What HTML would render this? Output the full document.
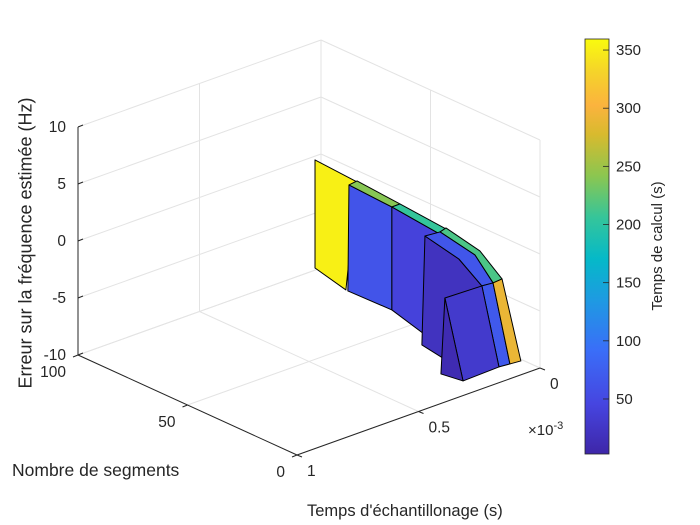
<!DOCTYPE html>
<html><head><meta charset="utf-8"><style>
body{margin:0;background:#fff;}
svg{display:block;font-family:"Liberation Sans",sans-serif;}
</style></head><body>
<svg id="chart" width="700" height="525" viewBox="0 0 700 525" xmlns="http://www.w3.org/2000/svg">
<defs>
<linearGradient id="parula" x1="0" y1="1" x2="0" y2="0">
<stop offset="0" stop-color="#3e26a8"/>
<stop offset="0.12" stop-color="#4645e0"/>
<stop offset="0.25" stop-color="#3a6ef8"/>
<stop offset="0.37" stop-color="#1e9ae2"/>
<stop offset="0.47" stop-color="#05b9c8"/>
<stop offset="0.57" stop-color="#35c59a"/>
<stop offset="0.67" stop-color="#8bc650"/>
<stop offset="0.77" stop-color="#d8ba2e"/>
<stop offset="0.84" stop-color="#fbb33e"/>
<stop offset="0.92" stop-color="#f5d32a"/>
<stop offset="1" stop-color="#f9fb0e"/>
</linearGradient>
</defs>
<g id="grid"></g>
<g id="axes"></g>
<g id="surf"></g>
<g id="labels"></g>
<g>
<rect x="585" y="39" width="24" height="415" fill="url(#parula)" stroke="#262626" stroke-width="0.8"/>
<g id="cbticks"></g>
<text transform="translate(662,246) rotate(-90)" text-anchor="middle" font-size="15" fill="#262626">Temps de calcul (s)</text>
</g>
</svg>
<script>
// axis ranges
const timeRange = [0, 1e-3];
const segRange = [0, 100];
const errRange = [-10, 10];
const cRange = [2.7, 359.5];
const zTicks = [-10, -5, 0, 5, 10];
const zTickLabels = ['-10', '-5', '0', '5', '10'];
const segTicks = [0, 50, 100];
const segTickLabels = ['0', '50', '100'];
const timeTicks = [0, 0.5e-3, 1e-3];
const timeTickLabels = ['0', '0.5', '1'];
const cbTicks = [50, 100, 150, 200, 250, 300, 350];
// surface patches: vertices (segments, error) at time 0.35e-3, with compute-time colour value
const patchTime = [0.35e-3, 0.35e-3, 0.35e-3, 0.35e-3, 0.35e-3, 0.35e-3, 0.35e-3, 0.35e-3, 0.35e-3, 0.35e-3, 0.35e-3, 0.35e-3];
const patchSeg = [
 [63.9, 44.7, 49.8, 63.9],
 [48.4, 28.8, 28.8, 48.9],
 [48.4, 44.7, 25.1, 28.8],
 [28.8, 7.8, 8.7, 28.8],
 [28.8, 25.1, 4.1, 7.8],
 [13.7, -1.8, -12.3, -6.8, 15.1],
 [6.8, 4.1, -11.4, -21.5, -17.4, -9.1],
 [13.7, 6.8, -9.1, -17.4, -12.3, -1.8],
 [-12.3, -17.4, -25.1, -20.1],
 [-17.4, -21.5, -30.1, -25.1],
 [4.6, -12.3, -20.1, -3.7],
 [4.6, -3.7, 6.4]
];
const patchErr = [
 [5.32, 5.07, -4.85, -4.16],
 [4.48, 4.27, -4.76, -4.86],
 [4.48, 5.16, 4.86, 4.27],
 [4.27, 3.83, -5.89, -4.76],
 [4.27, 4.86, 4.51, 3.83],
 [3.05, 2.39, 0.95, -7.34, -6.63],
 [4.01, 4.6, 3.94, 2.37, 1.66, 3.39],
 [3.05, 4.01, 3.39, 1.66, 0.95, 2.39],
 [0.95, 1.66, -4.77, -5.47],
 [1.66, 2.37, -4.07, -4.77],
 [-1.59, 0.95, -5.47, -8.14],
 [-1.59, -8.14, -8.41]
];
const patchC = [352, 62, 240, 42, 205, 20, 215, 65, 68, 290, 30, 10];

const NS='http://www.w3.org/2000/svg';
function P(t, s, z){
  const u=(t-timeRange[0])/(timeRange[1]-timeRange[0]);
  const v=(s-segRange[0])/(segRange[1]-segRange[0]);
  const w=(z-errRange[0])/(errRange[1]-errRange[0]);
  return [540-243*u-219*v, 368+87*u-100*v-228*w];
}
const stops=[[0,[62,38,168]],[0.12,[70,69,224]],[0.25,[58,110,248]],[0.37,[30,154,226]],[0.47,[5,185,200]],[0.57,[53,197,154]],[0.67,[139,198,80]],[0.77,[216,186,46]],[0.84,[251,179,62]],[0.92,[245,211,42]],[1,[249,251,14]]];
function cmap(c){
  let f=(c-cRange[0])/(cRange[1]-cRange[0]); f=Math.max(0,Math.min(1,f));
  for(let i=1;i<stops.length;i++){ if(f<=stops[i][0]){const a=stops[i-1],b=stops[i];const k=(f-a[0])/(b[0]-a[0]);
    const r=a[1].map((x,j)=>Math.round(x+(b[1][j]-x)*k));return `rgb(${r[0]},${r[1]},${r[2]})`;}}
  return 'rgb(249,251,14)';
}
function mk(tag, attrs, parent){const e=document.createElementNS(NS,tag);for(const k in attrs)e.setAttribute(k,attrs[k]);parent.appendChild(e);return e;}
const grid=document.getElementById('grid'), axes=document.getElementById('axes'), surf=document.getElementById('surf'), labels=document.getElementById('labels');
function line(p,q,parent,stroke,w,name){const l=mk('line',{x1:p[0],y1:p[1],x2:q[0],y2:q[1],stroke:stroke,'stroke-width':w},parent);
  
  
  return l;}
const gc='#e3e3e3';
const t0=timeRange[0], t1=timeRange[1], s0=segRange[0], s1=segRange[1], z0=errRange[0], z1=errRange[1];
zTicks.forEach(z=>{line(P(t1,s1,z),P(t0,s1,z),grid,gc,1,'z-grid-line');line(P(t0,s1,z),P(t0,s0,z),grid,gc,1,'z-grid-line');});
timeTicks.forEach(t=>{line(P(t,s0,z0),P(t,s1,z0),grid,gc,1,'time-grid-line');line(P(t,s1,z0),P(t,s1,z1),grid,gc,1,'time-grid-line');});
segTicks.forEach(s=>{line(P(t0,s,z0),P(t1,s,z0),grid,gc,1,'segment-grid-line');line(P(t0,s,z0),P(t0,s,z1),grid,gc,1,'segment-grid-line');});
const ac='#262626';
line(P(t1,s1,z0),P(t1,s1,z1),axes,ac,1,'z-axis-line');
line(P(t1,s1,z0),P(t1,s0,z0),axes,ac,1,'segment-axis-line');
line(P(t1,s0,z0),P(t0,s0,z0),axes,ac,1,'time-axis-line');
zTicks.forEach((z,i)=>{const p=P(t1,s1,z);line(p,[p[0]+5,p[1]-2],axes,ac,1,'z-tick');
  const tx=mk('text',{x:p[0]-12,y:p[1]+5,'text-anchor':'end','font-size':15.5,fill:ac},labels);tx.textContent=zTickLabels[i];
  
  });
segTicks.forEach((s,i)=>{const p=P(t1,s,z0);line(p,[p[0]-5,p[1]+2],axes,ac,1,'segment-tick');
  const tx=mk('text',{x:p[0]-12,y:p[1]+22,'text-anchor':'end','font-size':15.5,fill:ac},labels);tx.textContent=segTickLabels[i];
  
  });
timeTicks.forEach((t,i)=>{const p=P(t,s0,z0);line(p,[p[0]+5,p[1]+2],axes,ac,1,'time-tick');
  const tx=mk('text',{x:p[0]+10,y:p[1]+21,'text-anchor':'start','font-size':15.5,fill:ac},labels);tx.textContent=timeTickLabels[i];
  
  });
patchSeg.forEach((segs,i)=>{
  const pts=segs.map((s,j)=>P(patchTime[i],s,patchErr[i][j]).join(',')).join(' ');
  const pg=mk('polygon',{points:pts,fill:cmap(patchC[i]),stroke:'#000','stroke-width':1,'stroke-linejoin':'round'},surf);
  
  
});
const cbt=document.getElementById('cbticks');
cbTicks.forEach(c=>{const y=454-(c-cRange[0])/(cRange[1]-cRange[0])*415;
  line([603,y],[609,y],cbt,ac,0.8,'colorbar-tick');
  const tx=mk('text',{x:616,y:y+5,'font-size':15,fill:ac},cbt);tx.textContent=String(c);
  
  });
</script>
<div style="position:absolute;left:0;top:0;width:700px;height:525px;pointer-events:none;font-family:'Liberation Sans',sans-serif;color:#262626;">
<div style="position:absolute;left:26px;top:243px;transform:translate(-50%,-50%) rotate(-90deg);white-space:nowrap;font-size:18px;">Erreur sur la fréquence estimée (Hz)</div>
<div style="position:absolute;left:12px;top:460px;white-space:nowrap;font-size:17.5px;">Nombre de segments</div>
<div style="position:absolute;left:307px;top:502px;white-space:nowrap;font-size:16.5px;">Temps d'échantillonage (s)</div>
<div style="position:absolute;left:528px;top:420px;white-space:nowrap;font-size:15px;">×10<sup style="font-size:11px">-3</sup></div>
</div>
</body></html>
